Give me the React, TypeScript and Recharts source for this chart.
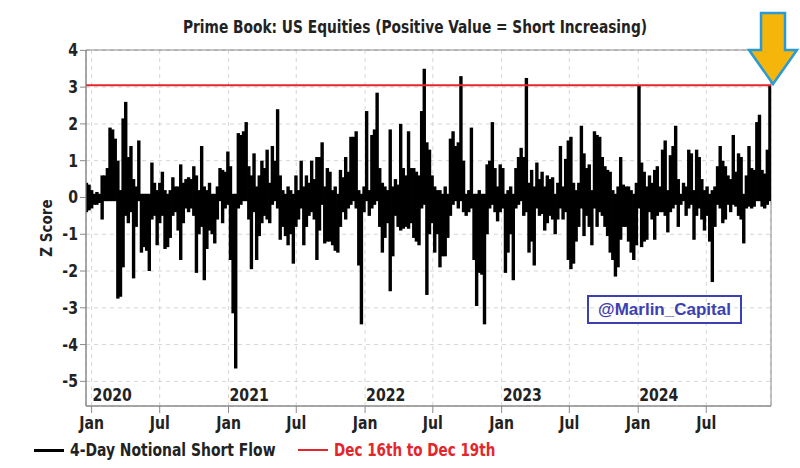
import React from "react";
import {
  ComposedChart,
  Bar,
  XAxis,
  YAxis,
  CartesianGrid,
  ReferenceLine,
  ReferenceArea,
} from "recharts";

// weekly buckets ending on Thursdays, first one Dec 19 2019, last one Dec 19 2024
const FIRST_WEEK = Date.UTC(2019, 11, 19);
const DAY = 86400000;

// highest / lowest daily z-score inside each week
const high2019 = [0.4, 0.35];
const low2019 = [-0.4, -0.35];

const high2020 = [
  0.2, 0.1, 0.15, 0.1, 0.6, 0.6, 0.8, 1.9, 1.85, 1.6, 1.0, 0.2, 2.15, 2.6, 1.1, 1.4, 0.5, 0.3,
  1.55, 0.1, 0.1, 0.1, 0.1, 0.95, 0.4, 0.2, 0.4, 0.7, 0.2, 0.1, 0.2, 0.55, 0.3, 0.3, 0.9, 0.4,
  0.5, 0.55, 0.5, 0.85, 0.6, 0.2, 1.4, 0.3, 0.2, 0.4, 0.1, 0.1, 0.3, 0.8, 0.75, 0.7, 1.25,
];
const low2020 = [
  -0.3, -0.2, -0.2, -0.15, -0.6, -0.1, -0.1, -0.1, -0.1, -0.1, -2.75, -2.7, -1.9, -0.5, -0.7,
  -0.4, -2.2, -0.8, -0.1, -1.5, -1.35, -1.45, -2.0, -0.6, -0.5, -1.3, -0.7, -0.5, -1.4, -1.35,
  -1.1, -0.5, -0.4, -0.9, -1.7, -0.7, -0.3, -0.4, -0.3, -0.5, -2.05, -1.0, -0.8, -2.25, -1.4,
  -0.9, -1.0, -1.25, -0.6, -0.1, -0.7, -0.3, -0.2,
];

const high2021 = [
  0.85, 0.1, 0.1, 1.75, 1.7, 1.8, 2.05, 0.85, 0.6, 1.2, 0.3, 0.6, 1.0, 0.8, 1.3, 0.4, 1.4, 1.0,
  2.4, 0.6, 0.2, 0.1, 0.3, 0.2, 0.1, 0.6, 0.2, 1.0, 0.3, 0.6, 0.4, 1.0, 0.5, 1.1, 1.1, 1.5, 0.3,
  0.8, 0.7, 0.2, 0.3, 0.1, 0.75, 0.55, 1.1, 0.7, 1.65, 1.65, 1.8, 0.2, 0.1, 0.3,
];
const low2021 = [
  -1.7, -3.15, -4.65, -0.3, -0.2, -0.1, -0.1, -0.6, -1.95, -0.4, -1.7, -1.05, -0.7, -0.5, -0.6,
  -0.7, -0.2, -0.1, -0.3, -1.15, -0.8, -1.05, -1.3, -1.0, -1.8, -0.8, -0.6, -0.3, -1.3, -0.8,
  -0.5, -0.4, -0.6, -1.7, -0.9, -0.2, -1.25, -1.2, -1.2, -1.3, -1.45, -1.5, -0.8, -0.4, -0.6,
  -0.3, -0.2, -0.1, -0.3, -1.85, -3.45, -0.4,
];

const high2022 = [
  2.35, 0.2, 1.7, 1.85, 2.85, 0.8, 0.4, 0.3, 0.2, 1.85, 0.3, 0.5, 0.35, 2.0, 0.8, 0.6, 1.8, 0.8,
  0.8, 0.7, 0.6, 2.35, 3.5, 1.5, 1.3, 0.6, 0.3, 0.2, 0.2, 0.1, 0.3, 0.1, 1.6, 1.8, 1.4, 1.5, 3.3,
  1.0, 0.1, 0.2, 1.9, 0.1, 0.1, 0.2, 0.1, 0.1, 0.9, 1.0, 2.05, 0.8, 0.3, 0.9,
];
const low2022 = [
  -0.1, -0.5, -0.3, -0.2, -0.1, -0.8, -1.5, -1.1, -0.7, -2.55, -1.6, -0.5, -0.8, -0.9, -0.85,
  -0.8, -0.85, -0.7, -1.1, -1.2, -1.3, -0.3, -0.2, -2.65, -1.0, -0.7, -1.5, -1.0, -1.9, -1.6,
  -1.6, -1.1, -0.5, -0.2, -0.1, -0.3, -0.1, -0.4, -0.5, -0.4, -0.3, -1.7, -2.95, -2.05, -2.1,
  -3.45, -1.0, -0.3, -0.2, -0.4, -0.65, -0.4,
];

const high2023 = [
  0.8, 0.1, 0.2, 0.3, 0.1, 0.8, 1.1, 1.35, 1.1, 3.25, 0.4, 0.75, 0.3, 0.95, 0.5, 0.7, 0.3, 0.6,
  0.5, 0.55, 0.1, 0.4, 1.4, 0.3, 1.05, 1.55, 1.65, 0.4, 0.2, 0.4, 1.95, 1.2, 0.8, 0.9, 0.2, 1.8,
  1.7, 1.65, 1.1, 0.85, 0.75, 0.7, 0.2, 0.1, 0.3, 1.1, 0.35, 0.3, 0.3, 0.2, 0.1, 0.4,
];
const low2023 = [
  -0.3, -2.05, -1.5, -1.0, -2.25, -0.3, -0.2, -0.1, -0.5, -0.4, -1.5, -1.2, -1.85, -0.3, -0.5,
  -0.45, -0.9, -0.7, -0.5, -0.6, -1.0, -0.6, -0.3, -0.6, -0.4, -1.7, -1.95, -1.8, -1.2, -0.8,
  -0.3, -1.05, -0.5, -0.8, -1.3, -0.3, -0.8, -0.4, -0.5, -0.8, -1.05, -1.5, -1.7, -2.15, -1.9,
  -1.15, -0.8, -0.8, -1.2, -1.5, -1.7, -1.3,
];

const high2024 = [
  3.05, 0.95, 0.7, 0.3, 0.6, 0.4, 0.75, 0.85, 0.3, 1.3, 1.55, 0.2, 1.15, 1.4, 1.95, 0.5, 0.1,
  0.4, 0.3, 1.3, 1.2, 0.2, 1.3, 1.1, 0.5, 0.2, 0.3, 0.1, 0.2, 0.3, 0.85, 1.4, 1.0, 0.85, 0.6,
  0.5, 1.7, 0.7, 1.2, 1.1, 0.1, 0.6, 1.4, 0.8, 0.75, 2.05, 2.25, 0.75, 0.65, 1.3, 3.05,
];
const low2024 = [
  -0.3, -1.35, -1.2, -1.15, -0.4, -0.6, -1.15, -0.5, -0.4, -0.4, -0.5, -0.95, -0.4, -0.3, -0.2,
  -0.8, -0.2, -0.1, -0.5, -0.3, -0.2, -1.15, -0.5, -0.3, -0.6, -0.9, -0.5, -1.2, -2.3, -0.8,
  -0.2, -0.3, -0.7, -0.6, -0.2, -0.4, -0.2, -0.25, -0.5, -0.6, -1.25, -0.3, -0.25, -0.3, -0.25,
  -0.1, -0.1, -0.25, -0.3, -0.2, -0.1,
];

// latest reading, Dec 16th to Dec 19th
const latestZ = 3.05;

const yTicks = [-5, -4, -3, -2, -1, 0, 1, 2, 3, 4];
const xTicks = [
  Date.UTC(2020, 0, 1), Date.UTC(2020, 6, 1),
  Date.UTC(2021, 0, 1), Date.UTC(2021, 6, 1),
  Date.UTC(2022, 0, 1), Date.UTC(2022, 6, 1),
  Date.UTC(2023, 0, 1), Date.UTC(2023, 6, 1),
  Date.UTC(2024, 0, 1), Date.UTC(2024, 6, 1),
];
const xDomain = [Date.UTC(2019, 11, 17), Date.UTC(2024, 11, 21)];
const yDomain = [-5.67, 4.01];

const highs = [...high2019, ...high2020, ...high2021, ...high2022, ...high2023, ...high2024];
const lows = [...low2019, ...low2020, ...low2021, ...low2022, ...low2023, ...low2024];
const data = highs.map((h, i) => ({
  date: FIRST_WEEK + i * 7 * DAY,
  range: [lows[i], h],
}));

const FONT = '"DejaVu Sans Condensed", "DejaVu Sans", sans-serif';
const INK = "#222";
const RED = "#e3262c";

const DateTick = ({ x, y, payload }: any) => {
  const d = new Date(payload.value);
  const jan = d.getUTCMonth() === 0;
  return (
    <g>
      <text transform={`translate(${x},${y + 14}) scale(0.92,1)`} textAnchor="middle" fontFamily={FONT} fontWeight={700} fontSize={17} fill={INK}>
        {jan ? "Jan" : "Jul"}
      </text>
      {jan && (
        <text transform={`translate(${x + 1},${y - 14}) scale(0.87,1)`} textAnchor="start" fontFamily={FONT} fontWeight={700} fontSize={18} fill={INK}>
          {d.getUTCFullYear()}
        </text>
      )}
    </g>
  );
};

const ValueTick = ({ x, y, payload }: any) => (
  <text transform={`translate(${x},${y + 6}) scale(0.92,1)`} textAnchor="end" fontFamily={FONT} fontWeight={700} fontSize={17} fill={INK}>
    {payload.value}
  </text>
);

// thick stroke look of the daily line: each weekly bar is drawn a bit wider than its slot
const FlowBar = (p: any) => {
  const top = Math.min(p.y, p.y + p.height);
  const h = Math.max(Math.abs(p.height), 1.5);
  return <rect x={p.x + p.width / 2 - 1.7} y={top} width={3.4} height={h} fill="#000" />;
};

const squeeze = (k: number, origin = "left"): React.CSSProperties => ({
  display: "inline-block",
  transform: `scaleX(${k})`,
  transformOrigin: origin,
  whiteSpace: "nowrap",
});

export default function App() {
  return (
    <div style={{ position: "absolute", left: 0, top: 0, width: 800, height: 468, background: "#fff", fontFamily: FONT }}>
      <div style={{ position: "absolute", top: 16, left: 0, width: 830, textAlign: "center", fontSize: 18, fontWeight: 700, color: INK }}>
        <span style={squeeze(0.85, "center")}>Prime Book: US Equities (Positive Value = Short Increasing)</span>
      </div>
      <ComposedChart width={800} height={468} data={data} margin={{ top: 50, right: 29, bottom: 32, left: 0 }}>
        <CartesianGrid stroke="#d6d6d6" strokeDasharray="4 4" />
        <XAxis
          dataKey="date"
          type="number"
          scale="time"
          domain={xDomain}
          allowDataOverflow
          ticks={xTicks}
          tick={<DateTick />}
          tickSize={7}
          height={30}
          stroke="#8a8a8a"
          interval={0}
        />
        <YAxis
          type="number"
          domain={yDomain}
          allowDataOverflow
          ticks={yTicks}
          width={86}
          tickSize={6}
          stroke="#8a8a8a"
          tick={<ValueTick />}
          label={{
            value: "Z Score",
            angle: -90,
            position: "insideLeft",
            offset: 47,
            style: { fill: INK, fontSize: 15, fontWeight: 700, fontFamily: FONT, textAnchor: "middle" },
          }}
        />
        <Bar dataKey="range" fill="#000" barSize={2} shape={<FlowBar />} isAnimationActive={false} />
        <ReferenceLine y={latestZ} stroke={RED} strokeWidth={2} />
        <ReferenceArea x1={xDomain[0]} x2={xDomain[1]} y1={yDomain[0]} y2={yDomain[1]} fill="none" stroke="#8a8a8a" />
      </ComposedChart>
      <div
        style={{
          position: "absolute", left: 587, top: 295, width: 151, height: 25,
          border: "2px solid #3d40b0", color: "#3d40b0", fontFamily: '"Liberation Sans", Arial, sans-serif',
          fontWeight: 700, fontSize: 17, textAlign: "center", lineHeight: "25px",
        }}
      >
        @Marlin_Capital
      </div>
      <div style={{ position: "absolute", top: 449, left: 34, width: 30, height: 3, background: "#000" }} />
      <div style={{ position: "absolute", top: 440, left: 70, fontSize: 17, fontWeight: 700, color: INK }}>
        <span style={squeeze(0.91)}>4-Day Notional Short Flow</span>
      </div>
      <div style={{ position: "absolute", top: 449, left: 298, width: 30, height: 2, background: RED }} />
      <div style={{ position: "absolute", top: 440, left: 334, fontSize: 17, fontWeight: 700, color: RED }}>
        <span style={squeeze(0.885)}>Dec 16th to Dec 19th</span>
      </div>
      <svg width={800} height={468} style={{ position: "absolute", left: 0, top: 0, pointerEvents: "none" }}>
        <polygon
          points="761,13 785,13 785,50 797,50 773,84 749,50 761,50"
          fill="#f5b50a"
          stroke="#2a9ad6"
          strokeWidth={2.5}
          strokeLinejoin="miter"
        />
      </svg>
    </div>
  );
}
